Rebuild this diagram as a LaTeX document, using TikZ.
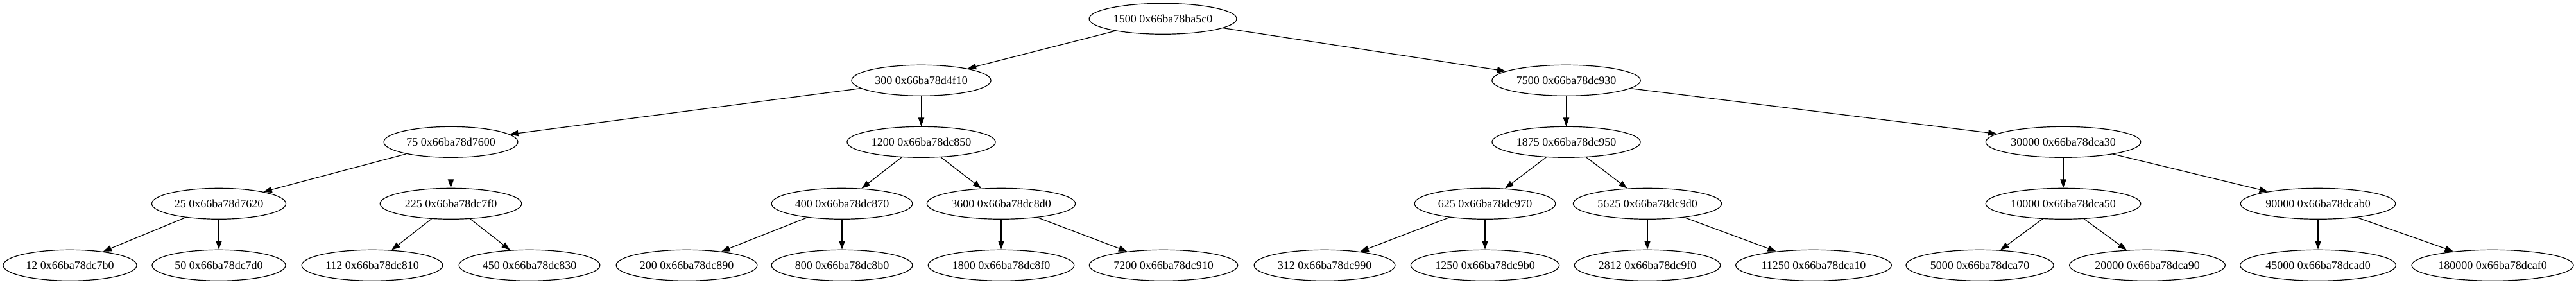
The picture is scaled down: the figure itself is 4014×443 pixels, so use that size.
\documentclass[tikz,border=0pt]{standalone}
\usepackage{fontspec}
\setmainfont{Liberation Serif}
\usetikzlibrary{shapes.geometric,arrows.meta}
\tikzset{
  tn/.style={ellipse, draw, line width=0.9pt, minimum height=36pt, inner sep=0pt,
    font=\fontsize{13.5pt}{16pt}\selectfont},
  ed/.style={draw, line width=0.9pt, -{Triangle[length=10pt,width=7pt]}}
}
\begin{document}
\begin{tikzpicture}[x=0.75pt,y=0.75pt]
\useasboundingbox (0,0) rectangle (4014,443);
% level 0
\node[tn, minimum width=172.5pt] (r) at (1812,413.7) {1500 0x66ba78ba5c0};
% level 1
\node[tn, minimum width=162.8pt] (a) at (1435.5,317.7) {300 0x66ba78d4f10};
\node[tn, minimum width=173.5pt] (b) at (2440.5,317.7) {7500 0x66ba78dc930};
% level 2
\node[tn, minimum width=156.75pt] (c) at (702.5,221.7) {75 0x66ba78d7600};
\node[tn, minimum width=173.5pt] (d) at (1435.5,221.7) {1200 0x66ba78dc850};
\node[tn, minimum width=173.5pt] (e) at (2440.5,221.7) {1875 0x66ba78dc950};
\node[tn, minimum width=181.2pt] (f) at (3215,221.7) {30000 0x66ba78dca30};
% level 3
\node[tn, minimum width=156.75pt] (g) at (341,125.7) {25 0x66ba78d7620};
\node[tn, minimum width=165.5pt] (h) at (702.5,125.7) {225 0x66ba78dc7f0};
\node[tn, minimum width=164.8pt] (i) at (1312,125.7) {400 0x66ba78dc870};
\node[tn, minimum width=173.5pt] (j) at (1560,125.7) {3600 0x66ba78dc8d0};
\node[tn, minimum width=164.8pt] (k) at (2314,125.7) {625 0x66ba78dc970};
\node[tn, minimum width=173.5pt] (l) at (2567,125.7) {5625 0x66ba78dc9d0};
\node[tn, minimum width=181.2pt] (m) at (3215,125.7) {10000 0x66ba78dca50};
\node[tn, minimum width=181.2pt] (n) at (3612,125.7) {90000 0x66ba78dcab0};
% level 4
\node[tn, minimum width=156pt] (L1) at (109,29.7) {12 0x66ba78dc7b0};
\node[tn, minimum width=156pt] (L2) at (341,29.7) {50 0x66ba78dc7d0};
\node[tn, minimum width=164.8pt] (L3) at (580,29.7) {112 0x66ba78dc810};
\node[tn, minimum width=164.8pt] (L4) at (825,29.7) {450 0x66ba78dc830};
\node[tn, minimum width=164.8pt] (L5) at (1070,29.7) {200 0x66ba78dc890};
\node[tn, minimum width=164.8pt] (L6) at (1312,29.7) {800 0x66ba78dc8b0};
\node[tn, minimum width=170.6pt] (L7) at (1560,29.7) {1800 0x66ba78dc8f0};
\node[tn, minimum width=173.5pt] (L8) at (1813,29.7) {7200 0x66ba78dc910};
\node[tn, minimum width=164.8pt] (L9) at (2064,29.7) {312 0x66ba78dc990};
\node[tn, minimum width=173.5pt] (L10) at (2314,29.7) {1250 0x66ba78dc9b0};
\node[tn, minimum width=170.6pt] (L11) at (2567,29.7) {2812 0x66ba78dc9f0};
\node[tn, minimum width=182pt] (L12) at (2826,29.7) {11250 0x66ba78dca10};
\node[tn, minimum width=172.5pt] (L13) at (3085,29.7) {5000 0x66ba78dca70};
\node[tn, minimum width=182pt] (L14) at (3346,29.7) {20000 0x66ba78dca90};
\node[tn, minimum width=182pt] (L15) at (3612,29.7) {45000 0x66ba78dcad0};
\node[tn, minimum width=189pt] (L16) at (3884,29.7) {180000 0x66ba78dcaf0};
% edges
\draw[ed] (r) -- (a);
\draw[ed] (r) -- (b);
\draw[ed] (a) -- (c);
\draw[ed] (a) -- (d);
\draw[ed] (b) -- (e);
\draw[ed] (b) -- (f);
\draw[ed] (c) -- (g);
\draw[ed] (c) -- (h);
\draw[ed] (d) -- (i);
\draw[ed] (d) -- (j);
\draw[ed] (e) -- (k);
\draw[ed] (e) -- (l);
\draw[ed] (f) -- (m);
\draw[ed] (f) -- (n);
\draw[ed] (g) -- (L1);
\draw[ed] (g) -- (L2);
\draw[ed] (h) -- (L3);
\draw[ed] (h) -- (L4);
\draw[ed] (i) -- (L5);
\draw[ed] (i) -- (L6);
\draw[ed] (j) -- (L7);
\draw[ed] (j) -- (L8);
\draw[ed] (k) -- (L9);
\draw[ed] (k) -- (L10);
\draw[ed] (l) -- (L11);
\draw[ed] (l) -- (L12);
\draw[ed] (m) -- (L13);
\draw[ed] (m) -- (L14);
\draw[ed] (n) -- (L15);
\draw[ed] (n) -- (L16);
\end{tikzpicture}
\end{document}
